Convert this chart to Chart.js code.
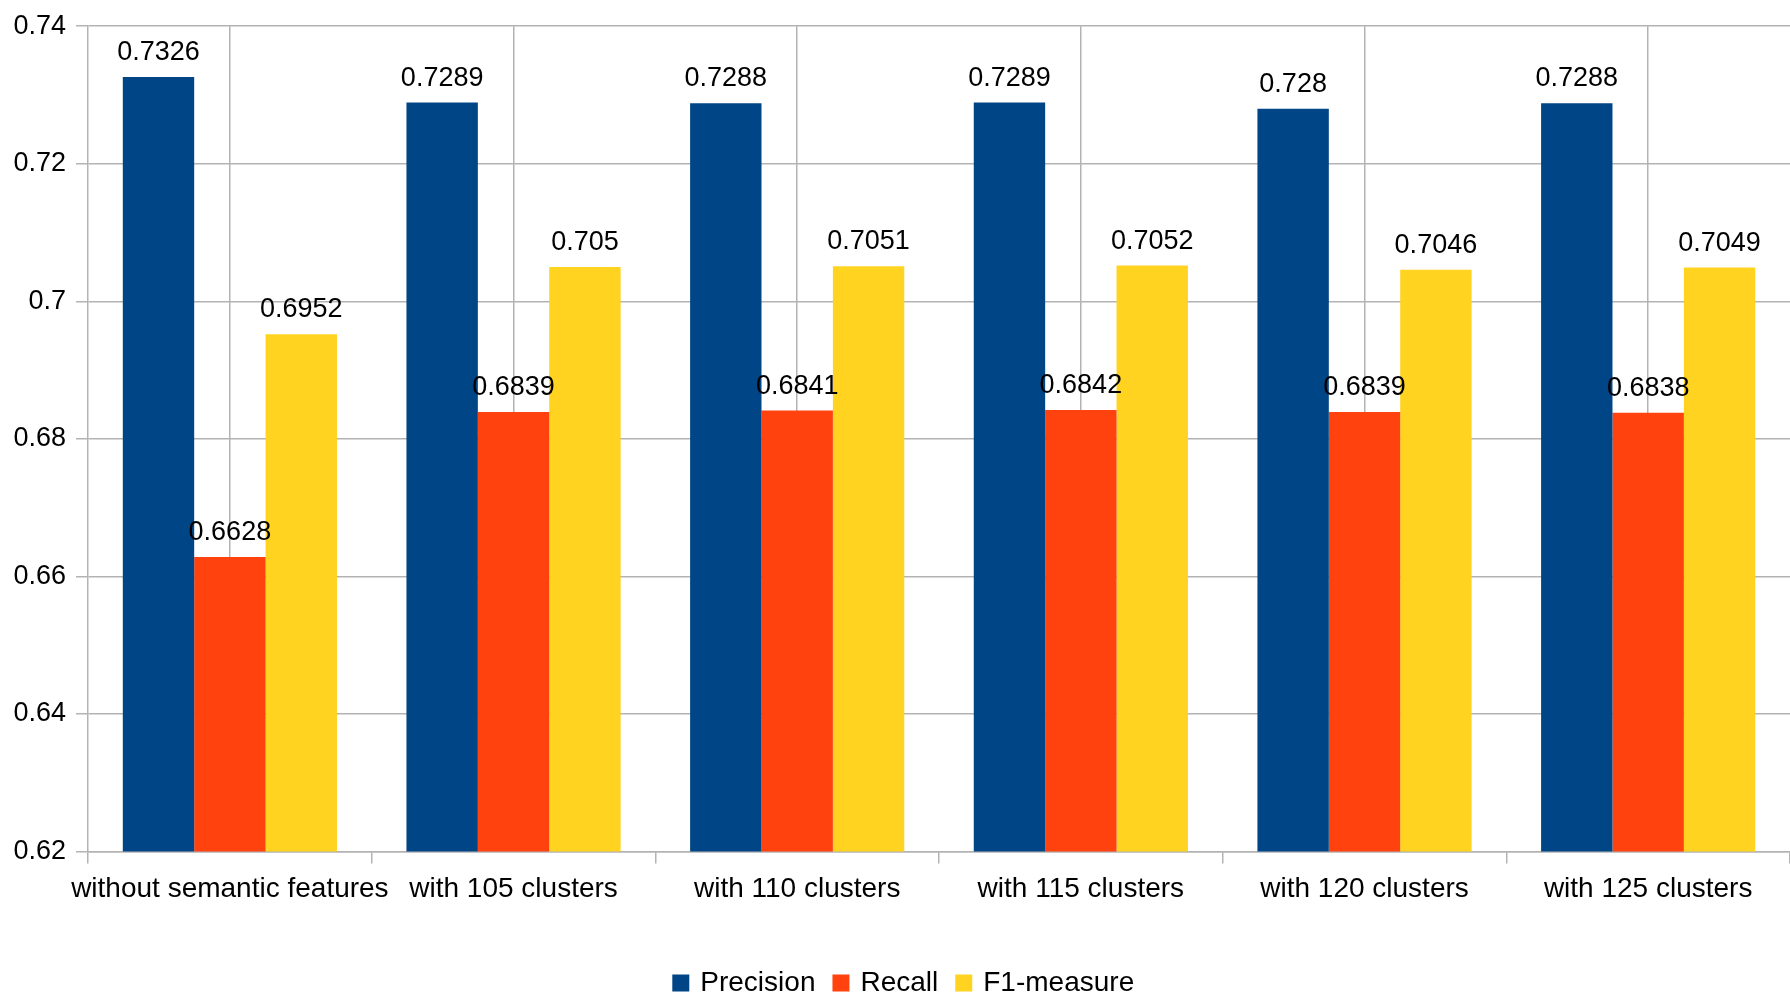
<!DOCTYPE html>
<html>
<head>
<meta charset="utf-8">
<script src="https://cdn.jsdelivr.net/npm/chart.js@4.4.1/dist/chart.umd.min.js"></script>
<style>
html,body{margin:0;padding:0;background:#fff;}
canvas{display:block;}
</style>
</head>
<body>
<canvas id="c" width="1790" height="997"></canvas>
<script>
const categories = ["without semantic features", "with 105 clusters", "with 110 clusters", "with 115 clusters", "with 120 clusters", "with 125 clusters"];
const precision = [0.7326, 0.7289, 0.7288, 0.7289, 0.728, 0.7288];
const recall = [0.6628, 0.6839, 0.6841, 0.6842, 0.6839, 0.6838];
const f1 = [0.6952, 0.705, 0.7051, 0.7052, 0.7046, 0.7049];
const seriesNames = ["Precision", "Recall", "F1-measure"];
const seriesColors = ["#004586", "#ff420e", "#ffd320"];
const yMin = 0.62, yMax = 0.74, yStep = 0.02;

const FONT = "'Liberation Sans', Arial, sans-serif";
const GRID = "#b3b3b3";

const valueLabels = {
  id: 'valueLabels',
  afterDatasetsDraw(chart) {
    const ctx = chart.ctx;
    ctx.save();
    ctx.font = "27px " + FONT;
    ctx.fillStyle = "#000";
    ctx.textAlign = "center";
    ctx.textBaseline = "alphabetic";
    chart.data.datasets.forEach((ds, i) => {
      const meta = chart.getDatasetMeta(i);
      meta.data.forEach((bar, j) => {
        ctx.fillText(String(ds.data[j]), bar.x, bar.y - 17);
      });
    });
    ctx.restore();
  }
};

const legendShift = {
  id: 'legendShift',
  afterLayout(chart) {
    if (chart.legend) {
      chart.legend.left += 8;
      chart.legend.right += 8;
    }
  }
};

new Chart(document.getElementById('c'), {
  type: 'bar',
  data: {
    labels: categories,
    datasets: [
      { label: seriesNames[0], data: precision, backgroundColor: seriesColors[0] },
      { label: seriesNames[1], data: recall, backgroundColor: seriesColors[1] },
      { label: seriesNames[2], data: f1, backgroundColor: seriesColors[2] }
    ]
  },
  options: {
    responsive: false,
    animation: false,
    devicePixelRatio: 1,
    datasets: { bar: { barPercentage: 1.0, categoryPercentage: 0.755 } },
    layout: { padding: { top: 22, left: 3.5, right: 0, bottom: -10 } },
    scales: {
      x: {
        offset: true,
        grid: { offset: true, drawOnChartArea: false, color: GRID, tickLength: 12, lineWidth: 1.5 },
        border: { color: GRID, width: 1.5 },
        ticks: { color: "#000", font: { family: FONT, size: 28 }, padding: 9, maxRotation: 0, autoSkip: false },
        afterFit: (scale) => { scale.height += 34; }
      },
      x2: {
        type: 'category',
        labels: categories,
        position: 'bottom',
        offset: true,
        grid: { offset: false, drawTicks: false, drawOnChartArea: true, color: GRID, lineWidth: 1.5 },
        border: { display: false },
        ticks: { display: false }
      },
      y: {
        min: yMin, max: yMax,
        grid: { color: GRID, tickLength: 12, lineWidth: 1.5 },
        border: { color: GRID, width: 1.5 },
        ticks: {
          stepSize: yStep,
          color: "#000",
          font: { family: FONT, size: 27 },
          padding: 10,
          callback: (v) => String(+Number(v).toFixed(2))
        }
      }
    },
    plugins: {
      tooltip: { enabled: false },
      legend: {
        position: 'bottom',
        labels: {
          color: "#000",
          font: { family: FONT, size: 28 },
          boxWidth: 11, boxHeight: 11,
          padding: 20,
          generateLabels: (chart) => chart.data.datasets.map((ds, i) => ({
            text: ds.label,
            fillStyle: ds.backgroundColor,
            strokeStyle: ds.backgroundColor,
            lineWidth: 6,
            fontColor: "#000",
            hidden: false,
            datasetIndex: i
          }))
        }
      }
    }
  },
  plugins: [valueLabels, legendShift]
});
</script>
</body>
</html>
